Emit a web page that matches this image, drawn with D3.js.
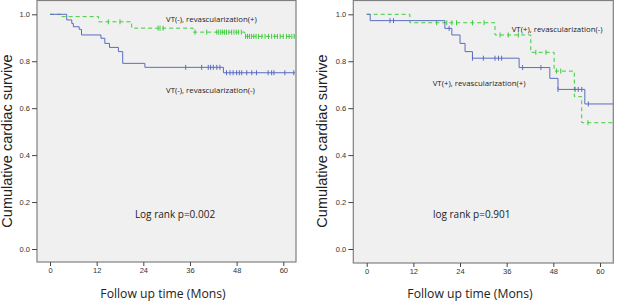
<!DOCTYPE html>
<html>
<head>
<meta charset="utf-8">
<script src="https://cdn.jsdelivr.net/npm/d3@7"></script>
<style>
  body { margin: 0; background: #fff; }
  svg { display: block; }
</style>
</head>
<body>
<svg id="chart"></svg>
<script>
// ticks
var xTicks = [0, 12, 24, 36, 48, 60];
var yTicks = [0.0, 0.2, 0.4, 0.6, 0.8, 1.0];

// left panel: VT(-), revascularization(-)  [time, survival] steps
var leftBlueSteps = [[0, 1.0], [4.3, 0.976], [5.6, 0.961], [6.0, 0.947], [7.5, 0.936], [8.1, 0.912],
    [13.1, 0.898], [14.1, 0.876], [15.3, 0.859], [17.6, 0.841], [18.7, 0.791], [24.4, 0.774],
    [44.6, 0.751], [63, 0.751]];
var leftBlueCensor = [34.9, 39.0, 40.7, 41.3, 42.0, 42.9, 43.7, 45.4, 46.3, 47.1, 48.0, 48.7, 49.3,
    50.6, 51.9, 53.1, 56.1, 57.0, 57.6, 60.4, 62.7];
// left panel: VT(-), revascularization(+)
var leftGreenSteps = [[0, 1.0], [3.0, 0.99], [12.5, 0.968], [21, 0.941], [36.8, 0.924], [50.1, 0.906], [63, 0.906]];
var leftGreenCensor = [15.0, 18.0, 27.8, 28.3, 29.1, 37.3, 40.3, 42.9, 43.4, 43.9, 44.4, 44.9, 45.4, 46.0,
    46.7, 47.3, 47.9, 48.5, 49.2, 50.3, 50.8, 51.3, 51.8, 52.4, 53.0, 53.6, 54.5, 55.3, 56.2, 57.0,
    57.8, 58.5, 59.2, 60.0, 60.8, 61.5, 62.2, 62.8];

// right panel: VT(+), revascularization(+)
var rightBlueSteps = [[0, 1.0], [0.9, 0.973], [20.1, 0.940], [21.9, 0.912], [24.0, 0.876], [25.3, 0.841],
    [27.2, 0.813], [39.2, 0.773], [47.1, 0.727], [49.2, 0.680], [56.1, 0.618], [63.4, 0.618]];
var rightBlueCensor = [6.0, 6.9, 21.2, 27.2, 30.0, 33.0, 33.9, 34.7, 40.1, 44.8, 49.2, 53.6, 54.4, 55.3, 57.0];
// right panel: VT(+), revascularization(-)
var rightGreenSteps = [[0, 1.0], [11.1, 0.964], [33.0, 0.912], [42.2, 0.838], [48.2, 0.758],
    [53.4, 0.649], [55.3, 0.538], [63.4, 0.538]];
var rightGreenCensor = [18.0, 20.6, 21.9, 23.1, 27.2, 30.2, 34.3, 36.4, 39.0, 43.5, 46.1, 48.8, 49.9, 56.9];

var blue = "#5a6cc2", green = "#3fcb3f";

var svg = d3.select("#chart").attr("width", 617).attr("height", 302);

function survAt(steps, t) {
    var s = steps[0][1];
    steps.forEach(function (d) { if (d[0] <= t) s = d[1]; });
    return s;
}

function drawPanel(o) {
    var x = d3.scaleLinear().domain([0, 60]).range(o.xr);
    var y = d3.scaleLinear().domain([0, 1]).range([249, 14.3]);
    var g = svg.append("g");

    g.append("rect")
        .attr("x", o.box[0]).attr("y", o.box[1])
        .attr("width", o.box[2] - o.box[0]).attr("height", o.box[3] - o.box[1])
        .style("fill", "#f0f0f0").style("stroke", "#808080").style("stroke-width", 1.2);

    // y axis
    var ya = g.append("g").attr("transform", "translate(" + o.box[0] + ",0)")
        .call(d3.axisLeft(y).tickValues(yTicks).tickFormat(d3.format(".1f")).tickSize(5).tickPadding(2));
    ya.select(".domain").remove();
    ya.selectAll("line").attr("stroke", "#444");
    ya.selectAll("text").style("font-family", "Liberation Sans, Arial").style("font-size", "7.5px").attr("fill", "#333");

    // x axis
    var xa = g.append("g").attr("transform", "translate(0," + o.box[3] + ")")
        .call(d3.axisBottom(x).tickValues(xTicks).tickSize(4).tickPadding(2));
    xa.select(".domain").remove();
    xa.selectAll("line").attr("stroke", "#444");
    xa.selectAll("text").style("font-family", "Liberation Sans, Arial").style("font-size", "7.5px").attr("fill", "#333");

    var line = d3.line().curve(d3.curveStepAfter)
        .x(function (d) { return x(d[0]); })
        .y(function (d) { return y(d[1]); });

    o.series.forEach(function (s) {
        g.append("path").datum(s.steps)
            .attr("d", line)
            .style("fill", "none").style("stroke", s.color).style("stroke-width", 1)
            .style("stroke-dasharray", s.dash || null);
        g.selectAll(null).data(s.censor).enter().append("line")
            .attr("x1", function (d) { return x(d); })
            .attr("x2", function (d) { return x(d); })
            .attr("y1", function (d) { return y(survAt(s.steps, d)) - 2.5; })
            .attr("y2", function (d) { return y(survAt(s.steps, d)) + 2.5; })
            .style("stroke", s.color).style("stroke-width", 1);
        g.append("text").attr("x", s.label[1]).attr("y", s.label[2])
            .text(s.label[0])
            .style("font-family", "Open Sans, sans-serif").style("font-size", "7.8px").attr("fill", "#222");
    });

    g.append("text").attr("x", o.logrank[1]).attr("y", 218).attr("text-anchor", "middle")
        .text(o.logrank[0])
        .style("font-family", "Open Sans, sans-serif").style("font-size", "10px").attr("fill", "#222");

    g.append("text")
        .attr("transform", "translate(" + o.ytitleX + ",141) rotate(-90)")
        .attr("text-anchor", "middle")
        .text("Cumulative cardiac survive")
        .style("font-family", "Liberation Sans, Arial").style("font-size", "14.5px").attr("fill", "#222");

    g.append("text").attr("x", o.xtitleX).attr("y", 298).attr("text-anchor", "middle")
        .text("Follow up time (Mons)")
        .style("font-family", "Open Sans, sans-serif").style("font-size", "12.2px").attr("fill", "#222");
}

drawPanel({
    xr: [50, 283.3], box: [37, 0.5, 296, 262],
    series: [
        { steps: leftGreenSteps, censor: leftGreenCensor, color: green, dash: "4,3",
          label: ["VT(-), revascularization(+)", 166, 22] },
        { steps: leftBlueSteps, censor: leftBlueCensor, color: blue,
          label: ["VT(-), revascularization(-)", 166, 92.5] }
    ],
    logrank: ["Log rank p=0.002", 175], ytitleX: 12, xtitleX: 163
});

drawPanel({
    xr: [366.7, 600], box: [353.3, 0.5, 613.3, 263],
    series: [
        { steps: rightGreenSteps, censor: rightGreenCensor, color: green, dash: "4,3",
          label: ["VT(+), revascularization(-)", 511.7, 32] },
        { steps: rightBlueSteps, censor: rightBlueCensor, color: blue,
          label: ["VT(+), revascularization(+)", 432.7, 85.5] }
    ],
    logrank: ["log rank p=0.901", 471.7], ytitleX: 327, xtitleX: 470
});
</script>
</body>
</html>
